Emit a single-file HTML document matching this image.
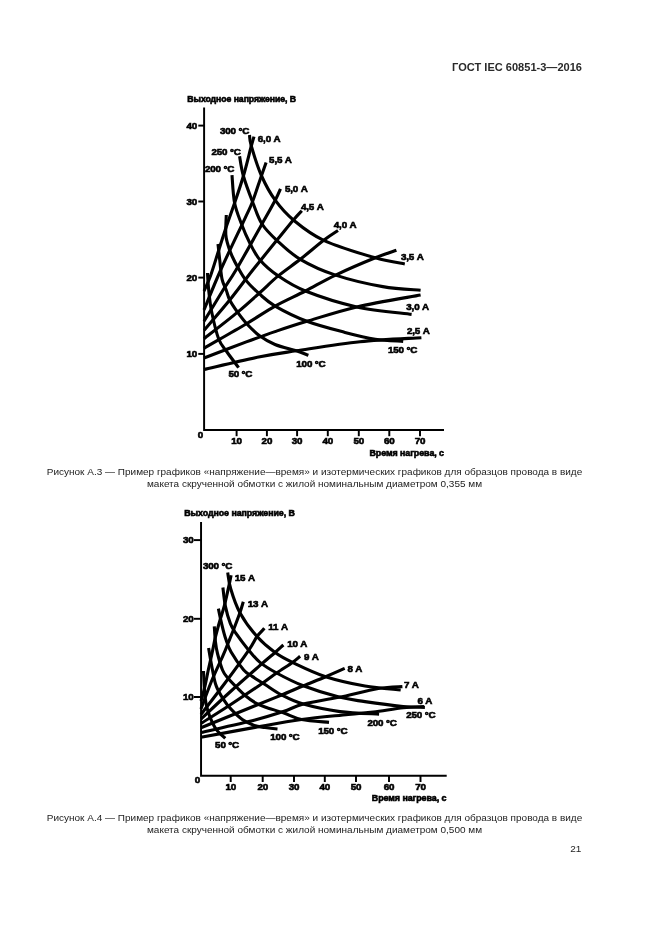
<!DOCTYPE html>
<html lang="ru"><head><meta charset="utf-8"><title>ГОСТ IEC 60851-3—2016</title>
<style>
html,body{margin:0;padding:0;background:#fff}
body{width:661px;height:935px;position:relative;overflow:hidden;font-family:"Liberation Sans",Arial,sans-serif}
svg{position:absolute;left:0;top:0}
.cv path{fill:none;stroke:#000;stroke-width:3.1;stroke-linecap:butt;stroke-linejoin:round}
.ax path{fill:none;stroke:#000;stroke-width:1.95}
.lb text{font-family:"Liberation Sans",Arial,sans-serif;font-weight:bold;font-size:9.8px;fill:#000;stroke:#000;stroke-width:.62px;letter-spacing:-.15px}
.lb text.tt{font-size:8.7px;letter-spacing:-.05px;stroke-width:.6px}
.lb text.tx{font-size:8.9px}
.lb text.t2{font-size:8.86px}
.hd{position:absolute;right:79px;top:59.7px;transform:scaleY(.95);transform-origin:100% 11.6px;font-size:11.05px;font-weight:bold;color:#2a2a2a;white-space:nowrap;line-height:14px}
.cap{position:absolute;left:0;width:629px;text-align:center;font-size:10px;line-height:12px;color:#222;white-space:nowrap;transform:scaleY(.91);transform-origin:0 9.47px}
.pn{position:absolute;left:570.3px;top:843.2px;font-size:10px;line-height:12px;color:#222;transform:scaleY(.95);transform-origin:0 9.47px}
</style></head><body>
<div class="hd">ГОСТ IEC 60851-3—2016</div>
<svg width="661" height="935" viewBox="0 0 661 935">
<g class="ax"><path d="M204.1 107.4V429.9H444"/>
<path d="M198.3 125.6H204.1"/>
<path d="M198.3 201.5H204.1"/>
<path d="M198.3 277.6H204.1"/>
<path d="M198.3 353.9H204.1"/>
<path d="M236.6 429.9V436.2"/>
<path d="M266.9 429.9V436.2"/>
<path d="M297.1 429.9V436.2"/>
<path d="M327.8 429.9V436.2"/>
<path d="M358.8 429.9V436.2"/>
<path d="M389.3 429.9V436.2"/>
<path d="M420.0 429.9V436.2"/>
<path d="M201.05 522V775.8H446.7"/>
<path d="M194 540.1H201"/>
<path d="M194 618.8H201"/>
<path d="M194 697.0H201"/>
<path d="M230.7 775.8V782"/>
<path d="M262.7 775.8V782"/>
<path d="M294.0 775.8V782"/>
<path d="M324.8 775.8V782"/>
<path d="M356.0 775.8V782"/>
<path d="M389.0 775.8V782"/>
<path d="M420.5 775.8V782"/></g>
<g class="cv"><path d="M204.0 291.0C205.2 288.3 208.4 281.7 210.9 274.7C213.4 267.7 216.5 257.0 219.2 248.8C221.8 240.6 224.2 232.9 226.8 225.3C229.4 217.7 231.8 211.2 234.6 203.0C237.4 194.8 240.6 185.5 243.4 176.0C246.2 166.5 249.5 152.6 251.3 146.0C253.1 139.4 253.6 138.2 254.0 136.6"/>
<path d="M204.0 309.8C206.8 303.2 213.9 285.2 220.7 270.0C227.5 254.8 239.7 229.7 245.0 218.3C250.3 206.9 249.8 208.6 252.5 201.7C255.2 194.8 258.8 183.2 261.1 176.7C263.4 170.1 265.3 164.8 266.1 162.4"/>
<path d="M204.0 321.3C207.0 316.4 216.7 300.4 222.0 291.8C227.3 283.2 229.3 281.3 236.0 270.0C242.7 258.7 255.5 235.6 262.0 224.0C268.5 212.4 272.1 206.1 275.2 200.2C278.3 194.3 279.6 190.7 280.5 188.8"/>
<path d="M204.0 330.3C208.3 325.2 221.6 310.1 229.7 300.0C237.8 289.9 245.0 279.9 252.8 270.0C260.7 260.1 270.0 248.6 276.8 240.3C283.6 232.0 289.2 224.9 293.4 220.0C297.6 215.1 300.4 212.3 301.8 210.8"/>
<path d="M204.0 338.7C209.6 334.3 228.1 320.1 237.4 312.4C246.7 304.7 253.2 298.6 260.0 292.5C266.8 286.4 271.5 281.4 278.2 275.9C284.9 270.4 292.7 265.2 300.3 259.3C307.9 253.4 317.4 245.1 323.7 240.3C330.0 235.5 335.6 232.1 338.0 230.5"/>
<path d="M204.0 348.3C211.0 344.2 234.2 331.0 246.0 324.0C257.9 317.0 265.2 311.6 275.1 306.1C285.0 300.6 295.3 296.2 305.4 291.0C315.5 285.8 324.0 280.6 335.6 275.1C347.2 269.6 365.2 261.9 375.3 257.8C385.4 253.7 392.9 251.6 396.4 250.3"/>
<path d="M204.0 358.0C211.1 355.3 234.5 346.3 246.3 341.9C258.1 337.5 264.9 335.0 275.0 331.6C285.1 328.2 293.3 325.4 306.9 321.3C320.5 317.2 337.9 311.3 356.8 306.9C375.8 302.5 410.0 297.0 420.6 295.0"/>
<path d="M204.0 369.5C213.3 367.4 244.6 359.9 260.0 356.8C275.4 353.7 279.6 353.3 296.3 350.8C313.0 348.3 339.1 343.9 360.0 341.7C380.9 339.5 411.2 338.4 421.4 337.7"/>
<path d="M249.5 135.1C249.8 136.9 249.3 139.2 251.3 146.0C253.3 152.8 257.6 167.0 261.6 176.0C265.6 185.0 269.9 192.9 275.2 200.2C280.5 207.5 285.3 213.3 293.4 220.0C301.5 226.7 310.0 234.0 323.7 240.3C337.4 246.6 361.8 253.9 375.3 257.8C388.8 261.7 399.9 262.9 404.8 263.9"/>
<path d="M239.6 156.3C240.2 159.6 241.2 168.4 243.4 176.0C245.6 183.6 249.4 193.7 252.5 201.7C255.6 209.7 257.9 217.6 262.0 224.0C266.1 230.4 270.4 234.4 276.8 240.3C283.2 246.2 290.5 253.5 300.3 259.3C310.1 265.1 321.9 270.6 335.6 275.1C349.4 279.7 368.6 284.1 382.8 286.6C397.0 289.1 414.3 289.7 420.6 290.3"/>
<path d="M232.0 175.2C232.4 179.8 233.0 194.9 234.6 203.0C236.2 211.1 239.0 217.3 241.5 224.0C244.0 230.7 246.7 237.0 249.8 243.0C252.9 249.0 255.3 254.5 260.0 260.0C264.7 265.5 270.6 270.7 278.2 275.9C285.8 281.1 292.3 285.8 305.4 291.0C318.5 296.2 339.1 303.0 356.8 306.9C374.5 310.8 402.5 313.1 411.6 314.4"/>
<path d="M226.3 215.0C226.2 218.3 225.5 229.7 225.8 234.7C226.1 239.7 227.0 241.4 228.0 245.0C229.0 248.6 230.3 252.2 232.0 256.0C233.7 259.8 235.6 263.5 238.0 267.6C240.4 271.7 242.7 276.2 246.2 280.6C249.7 285.0 254.4 289.4 259.2 293.7C264.0 297.9 267.2 301.5 275.1 306.1C283.1 310.7 295.2 316.9 306.9 321.3C318.5 325.7 333.6 329.4 345.0 332.4C356.4 335.4 365.6 337.7 375.3 339.2C385.0 340.7 398.6 341.0 403.2 341.4"/>
<path d="M218.0 244.0C218.3 246.8 219.1 254.7 219.8 260.6C220.5 266.5 221.0 274.5 222.1 279.4C223.2 284.3 224.9 286.6 226.2 290.0C227.5 293.4 227.8 296.3 229.7 300.0C231.6 303.7 234.6 308.1 237.4 312.0C240.2 315.9 242.7 319.4 246.3 323.3C249.9 327.2 254.4 332.0 259.2 335.5C264.0 339.0 268.8 341.9 275.0 344.5C281.2 347.1 290.7 349.0 296.3 350.8C301.9 352.6 306.4 354.6 308.4 355.3"/>
<path d="M207.5 273.0C207.7 275.8 208.0 283.5 208.7 290.0C209.4 296.5 210.0 303.8 211.7 312.0C213.4 320.2 216.1 332.3 218.7 339.0C221.2 345.7 223.7 347.2 227.0 352.0C230.3 356.8 236.7 365.0 238.6 367.6"/>
<path d="M201.0 701.0C201.7 698.5 203.8 691.3 205.0 686.0C206.2 680.7 207.3 674.4 208.5 669.0C209.7 663.6 210.8 658.8 212.0 653.5C213.2 648.2 214.0 642.9 215.4 637.2C216.8 631.5 218.7 624.7 220.2 619.5C221.7 614.3 222.8 611.6 224.3 605.9C225.8 600.2 227.9 590.5 229.0 585.4C230.1 580.3 230.8 576.9 231.1 575.2"/>
<path d="M201.0 709.0C202.8 704.2 208.2 689.1 212.0 680.0C215.8 670.9 221.0 660.2 223.6 654.2C226.2 648.2 226.0 648.2 227.7 644.0C229.4 639.8 231.8 634.2 233.8 629.0C235.8 623.8 238.3 617.2 239.9 612.7C241.5 608.2 242.7 603.6 243.3 601.8"/>
<path d="M201.0 714.5C205.0 709.2 217.0 693.7 225.0 683.0C233.0 672.3 243.5 657.9 248.8 650.1C254.1 642.4 254.4 640.1 257.0 636.5C259.6 632.9 263.2 629.7 264.4 628.3"/>
<path d="M201.0 719.0C205.8 714.5 220.2 700.9 230.0 692.0C239.8 683.1 252.5 672.0 260.0 665.4C267.5 658.8 271.2 655.9 275.1 652.5C279.0 649.1 282.0 646.2 283.4 645.0"/>
<path d="M201.0 723.5C205.8 720.4 220.2 711.4 230.0 705.0C239.8 698.6 252.2 690.3 260.0 685.0C267.8 679.7 271.2 676.8 276.6 673.0C282.0 669.2 288.6 665.2 292.5 662.4C296.4 659.6 298.8 657.3 300.1 656.3"/>
<path d="M201.0 727.7C210.0 724.1 241.6 711.2 255.0 705.8C268.4 700.3 273.6 698.3 281.6 695.0C289.7 691.7 296.0 688.8 303.3 685.8C310.6 682.8 318.8 679.6 325.7 676.7C332.6 673.8 341.5 669.8 344.7 668.4"/>
<path d="M201.0 732.5C210.0 730.4 241.3 723.5 255.0 720.0C268.7 716.5 275.2 714.2 283.3 711.6C291.4 709.0 294.0 706.5 303.3 704.1C312.6 701.7 326.5 699.9 339.0 697.3C351.5 694.7 367.7 690.3 378.3 688.5C388.9 686.7 398.4 686.9 402.4 686.6"/>
<path d="M201.0 737.2C210.0 735.6 238.2 730.4 255.0 727.4C271.8 724.4 286.1 721.6 301.6 719.5C317.1 717.4 336.2 715.8 348.2 714.5C360.1 713.2 364.1 713.1 373.3 712.0C382.5 710.9 394.8 708.7 403.2 707.8C411.6 706.9 420.5 706.8 424.0 706.6"/>
<path d="M227.7 572.5C228.2 575.2 228.7 582.1 230.7 588.8C232.7 595.5 235.5 604.8 239.9 612.7C244.3 620.7 251.1 629.9 257.0 636.5C262.9 643.1 269.2 648.2 275.1 652.5C281.0 656.8 284.1 658.4 292.5 662.4C300.9 666.4 313.6 672.8 325.7 676.7C337.8 680.6 352.5 683.8 365.0 686.0C377.5 688.2 394.8 689.3 400.7 690.0"/>
<path d="M222.9 587.5C223.3 590.8 224.3 601.2 225.6 607.2C226.8 613.2 228.7 619.3 230.4 623.6C232.1 627.9 232.9 628.8 235.8 633.1C238.8 637.4 244.1 644.5 248.1 649.4C252.1 654.3 255.2 658.5 260.0 662.4C264.8 666.3 269.4 669.1 276.6 673.0C283.8 676.9 292.9 681.8 303.3 685.8C313.7 689.8 328.7 694.5 339.0 697.1C349.3 699.7 354.3 700.0 365.0 701.6C375.7 703.2 393.2 705.5 403.2 706.5C413.2 707.5 421.3 707.2 424.9 707.4"/>
<path d="M218.4 608.6C218.9 611.1 220.4 618.6 221.6 623.6C222.8 628.6 224.0 633.8 225.6 638.5C227.2 643.2 228.1 646.9 231.1 652.1C234.1 657.4 240.2 666.0 243.7 670.0C247.2 674.0 248.6 674.0 252.2 676.4C255.8 678.8 260.1 681.4 265.0 684.5C269.9 687.6 275.2 691.7 281.6 695.0C288.0 698.3 293.6 701.3 303.3 704.1C313.0 706.9 327.4 709.9 340.0 711.6C352.6 713.3 372.6 713.7 379.1 714.1"/>
<path d="M214.3 626.3C214.5 628.8 214.9 636.8 215.4 641.3C215.9 645.8 216.3 648.7 217.5 653.5C218.7 658.3 220.8 665.9 222.5 670.0C224.2 674.1 225.3 674.9 227.8 677.9C230.3 680.9 234.4 685.0 237.4 688.0C240.4 691.0 242.8 693.5 245.8 696.0C248.8 698.5 252.2 701.0 255.4 702.8C258.6 704.6 260.4 705.3 265.0 707.0C269.6 708.7 277.2 710.7 283.3 712.8C289.4 714.9 294.0 717.9 301.6 719.5C309.2 721.1 324.4 721.9 329.0 722.4"/>
<path d="M208.6 648.0C209.2 651.7 211.2 663.7 212.5 670.0C213.8 676.3 214.3 680.9 216.2 685.9C218.0 690.9 221.1 695.8 223.6 699.7C226.1 703.6 227.8 705.9 231.0 709.2C234.2 712.6 238.8 717.1 242.7 719.8C246.6 722.5 250.6 724.2 254.3 725.5C258.0 726.8 261.1 726.9 265.0 727.5C268.9 728.1 275.4 728.8 277.5 729.0"/>
<path d="M203.5 671.0C203.7 674.4 204.1 685.7 204.5 691.2C204.9 696.7 205.2 699.7 206.1 703.9C207.0 708.1 208.1 712.4 209.8 716.6C211.5 720.8 213.6 725.7 216.2 729.3C218.8 732.9 223.7 736.8 225.2 738.3"/></g>
<g class="lb"><text x="187.3" y="101.7" class="tt">Выходное напряжение, В</text>
<text x="197.0" y="128.9" text-anchor="end">40</text>
<text x="197.0" y="204.8" text-anchor="end">30</text>
<text x="197.0" y="280.6" text-anchor="end">20</text>
<text x="197.0" y="357.1" text-anchor="end">10</text>
<text x="220.0" y="134.0">300 °C</text>
<text x="211.5" y="154.7">250 °C</text>
<text x="205.0" y="171.9">200 °C</text>
<text x="257.8" y="141.5">6,0 А</text>
<text x="269.1" y="163.2">5,5 А</text>
<text x="285.0" y="191.5">5,0 А</text>
<text x="301.0" y="210.0">4,5 А</text>
<text x="333.8" y="227.7">4,0 А</text>
<text x="401.0" y="259.5">3,5 А</text>
<text x="406.3" y="309.5">3,0 А</text>
<text x="407.0" y="334.0">2,5 А</text>
<text x="388.0" y="353.0">150 °C</text>
<text x="296.3" y="366.5">100 °C</text>
<text x="228.4" y="377.3">50 °C</text>
<text x="197.8" y="437.6">0</text>
<text x="236.6" y="444.1" text-anchor="middle">10</text>
<text x="266.9" y="444.1" text-anchor="middle">20</text>
<text x="297.1" y="444.1" text-anchor="middle">30</text>
<text x="327.8" y="444.1" text-anchor="middle">40</text>
<text x="358.8" y="444.1" text-anchor="middle">50</text>
<text x="389.3" y="444.1" text-anchor="middle">60</text>
<text x="420.0" y="444.1" text-anchor="middle">70</text>
<text x="444.0" y="456.0" text-anchor="end" class="tt tx">Время нагрева, с</text>
<text x="184.2" y="515.8" class="tt t2">Выходное напряжение, В</text>
<text x="193.5" y="543.4" text-anchor="end">30</text>
<text x="193.5" y="622.1" text-anchor="end">20</text>
<text x="193.5" y="700.3" text-anchor="end">10</text>
<text x="203.0" y="569.1">300 °C</text>
<text x="234.8" y="580.5">15 А</text>
<text x="247.8" y="607.0">13 А</text>
<text x="268.3" y="630.3">11 А</text>
<text x="287.2" y="646.7">10 А</text>
<text x="303.9" y="660.3">9 А</text>
<text x="347.5" y="672.0">8 А</text>
<text x="404.0" y="687.5">7 А</text>
<text x="417.4" y="703.5">6 А</text>
<text x="406.2" y="718.1">250 °C</text>
<text x="367.5" y="726.4">200 °C</text>
<text x="318.2" y="733.5">150 °C</text>
<text x="270.3" y="740.2">100 °C</text>
<text x="215.1" y="747.9">50 °C</text>
<text x="194.8" y="783.2">0</text>
<text x="230.7" y="790.1" text-anchor="middle">10</text>
<text x="262.7" y="790.1" text-anchor="middle">20</text>
<text x="294.0" y="790.1" text-anchor="middle">30</text>
<text x="324.8" y="790.1" text-anchor="middle">40</text>
<text x="356.0" y="790.1" text-anchor="middle">50</text>
<text x="389.0" y="790.1" text-anchor="middle">60</text>
<text x="420.5" y="790.1" text-anchor="middle">70</text>
<text x="446.4" y="801.3" text-anchor="end" class="tt tx">Время нагрева, с</text></g>
</svg>
<div class="cap" style="top:466.2px">Рисунок А.3 — Пример графиков «напряжение—время» и изотермических графиков для образцов провода в виде</div>
<div class="cap" style="top:478.0px">макета скрученной обмотки с жилой номинальным диаметром 0,355 мм</div>
<div class="cap" style="top:812.0px">Рисунок А.4 — Пример графиков «напряжение—время» и изотермических графиков для образцов провода в виде</div>
<div class="cap" style="top:823.9px">макета скрученной обмотки с жилой номинальным диаметром 0,500 мм</div>
<div class="pn">21</div>
</body></html>
